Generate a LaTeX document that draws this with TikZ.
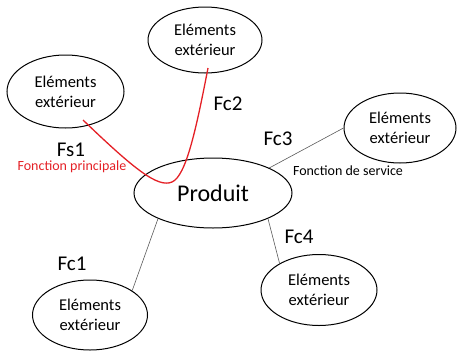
\documentclass[tikz,border=0pt]{standalone}
\usepackage{fontspec}
\setmainfont{Carlito}
\usetikzlibrary{shapes.geometric}
\definecolor{fred}{RGB}{228,32,38}
\definecolor{lgray}{RGB}{90,90,90}
\tikzset{
  elem/.style={draw=black, line width=1pt, ellipse, inner sep=0pt,
    align=center, font=\fontsize{16.5}{20}\selectfont},
  flabel/.style={font=\fontsize{21}{24}\selectfont},
  small/.style={font=\fontsize{14}{16}\selectfont},
  link/.style={draw=lgray, line width=0.6pt},
}
\begin{document}
\begin{tikzpicture}[x=1pt, y=-1pt]
  \useasboundingbox (0,0) rectangle (457,351);

  % external elements and the product
  \node[elem, minimum width=117pt, minimum height=73pt] (e1) at (65.5,91.5) {Eléments\\extérieur};
  \node[elem, minimum width=114pt, minimum height=66pt] (e2) at (205,40) {Eléments\\extérieur};
  \node[elem, minimum width=112pt, minimum height=70pt] (e3) at (400,128) {Eléments\\extérieur};
  \node[elem, minimum width=115pt, minimum height=70pt] (e5) at (90,315) {Eléments\\extérieur};
  \node[elem, minimum width=116pt, minimum height=71pt] (e6) at (319,290) {Eléments\\extérieur};
  \node[draw=black, line width=1pt, ellipse, inner sep=0pt,
        minimum width=158pt, minimum height=70pt,
        font=\fontsize{24}{28}\selectfont] (prod) at (213,193) {Produit};

  % function labels
  \node[flabel] (fs1) at (71,150) {Fs1};
  \node[small, text=fred] (fp) at (72,167) {Fonction principale};
  \node[flabel] (fc2) at (228,104) {Fc2};
  \node[flabel] (fc3) at (278,139) {Fc3};
  \node[small] (fs) at (348,171) {Fonction de service};
  \node[flabel] (fc1) at (72,264) {Fc1};
  \node[flabel] (fc4) at (299,237) {Fc4};

  % main function: curve from one element to the other through the product
  \coordinate (fsA) at (83,120);
  \coordinate (fsB) at (208,68);
  \draw[fred, line width=1.3pt] (fsA) .. controls (135,170) and (158,188) .. (172,182)
        .. controls (186,176) and (196,130) .. (fsB);

  % constraint functions
  \draw[link] (prod.24.5) -- (e3.west);
  \draw[link] (prod.205.7) -- (e5.30.8);
  \draw[link] (prod.335) -- (e6.146.6);
\end{tikzpicture}
\end{document}
